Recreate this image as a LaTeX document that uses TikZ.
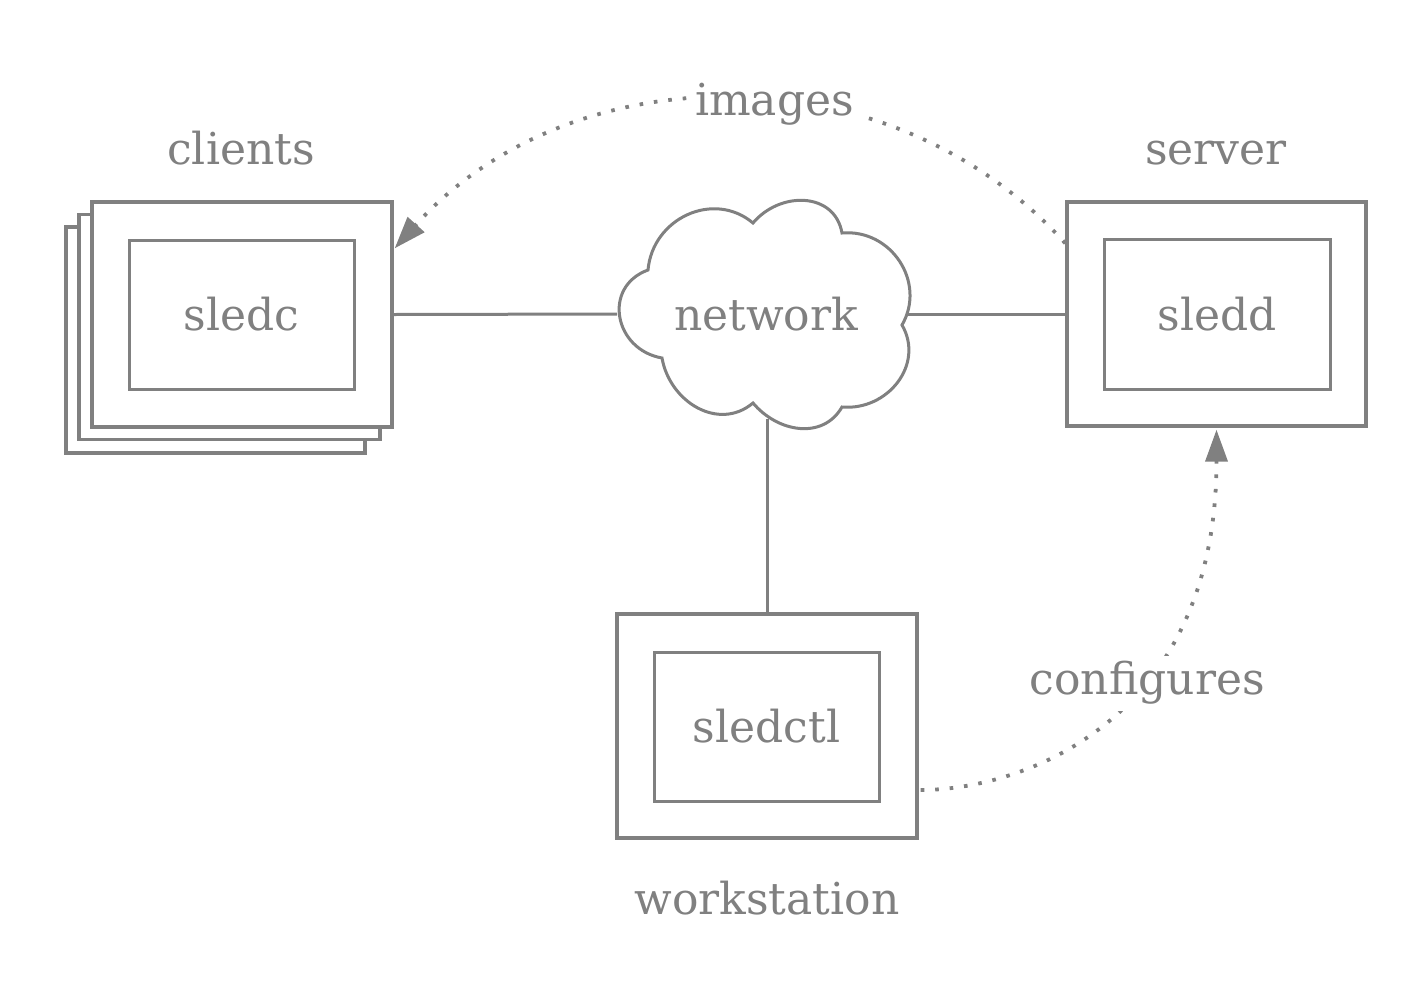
\documentclass[tikz,border=0pt]{standalone}
\usepackage{fontspec}
\setmainfont{DejaVu Serif}
\usetikzlibrary{arrows.meta}
\definecolor{ink}{RGB}{128,128,128}
\begin{document}
\begin{tikzpicture}[x=1pt,y=1pt,
  box/.style={draw=ink, line width=3.4pt, inner sep=0pt, fill=white},
  inbox/.style={draw=ink, line width=3pt, inner sep=0pt, text=ink, font=\fontsize{44}{50}\selectfont},
  lbl/.style={text=ink, font=\fontsize{44}{50}\selectfont, inner sep=0pt, anchor=base},
  link/.style={draw=ink, line width=3pt},
  dotarrow/.style={draw=ink, line width=3.8pt, line cap=butt, dash pattern=on 3.6pt off 10.9pt, -{Triangle[length=32pt,width=22pt]}},
  arrlbl/.style={text=ink, font=\fontsize{44}{50}\selectfont, fill=white, inner sep=6pt},
]
\useasboundingbox (0,0) rectangle (1427,-983);

% clients stack
\node[box, minimum width=299pt, minimum height=226pt] (cl3) at (215.5,-340) {};
\node[box, minimum width=301pt, minimum height=225pt] (cl2) at (229.5,-327) {};
\node[box, minimum width=300pt, minimum height=225pt] (cl) at (242,-314.5) {};
\node[inbox, minimum width=225pt, minimum height=149pt] (sledc) at (241.5,-314.5) {sledc};
\node[lbl] (clientslbl) at (241,-164) {clients};

% server
\node[box, minimum width=299pt, minimum height=224pt] (srv) at (1216.5,-314) {};
\node[inbox, minimum width=226pt, minimum height=150pt] (sledd) at (1217,-314) {sledd};
\node[lbl] (serverlbl) at (1216,-164) {server};

% workstation
\node[box, minimum width=300pt, minimum height=224pt] (ws) at (767,-726) {};
\node[inbox, minimum width=225pt, minimum height=149pt] (sledctl) at (766.5,-726.5) {sledctl};
\node[lbl] (wslbl) at (767,-914) {workstation};

% cloud
\coordinate (cA) at (648,-270);
\coordinate (cB) at (753,-223);
\coordinate (cC) at (842,-233);
\coordinate (cD) at (902,-325);
\coordinate (cE) at (842,-407);
\coordinate (cF) at (753,-403);
\coordinate (cG) at (662,-358);
\draw[draw=ink, line width=3pt, fill=white, line join=miter]
  (cA) to[out=85,in=140,looseness=1.15] (cB)
       to[out=50,in=100,looseness=1.2] (cC)
       to[out=5,in=60,looseness=1.15] (cD)
       to[out=-60,in=-5,looseness=1.15] (cE)
       to[out=-120,in=-50,looseness=1.1] (cF)
       to[out=-140,in=-80,looseness=1.13] (cG)
       to[out=170,in=200,looseness=1.4] (cA) -- cycle;
\node[text=ink, font=\fontsize{44}{50}\selectfont, inner sep=0pt] (net) at (766,-314) {network};
\coordinate (netL) at (617,-314);
\coordinate (netR) at (907,-314);
\coordinate (netB) at (767,-419);

% links
\draw[link] (cl.east) -- (netL);
\draw[link] (netR) -- (srv.west);
\draw[link] (netB) -- (ws.north);

% images arrow
\draw[dotarrow] ([yshift=-43pt]srv.north west) to[out=132,in=48,looseness=1]
  node[arrlbl, pos=0.44, yshift=-3pt] {images} ([xshift=1pt,yshift=-48pt]cl.north east);

% configures arrow
\draw[dotarrow] ([xshift=2pt,yshift=-64pt]ws.east) to[out=0,in=-90,out distance=100pt,in distance=293pt]
  node[arrlbl, pos=0.6, xshift=6pt] {configures} ([yshift=-2pt]srv.south);
\end{tikzpicture}
\end{document}
